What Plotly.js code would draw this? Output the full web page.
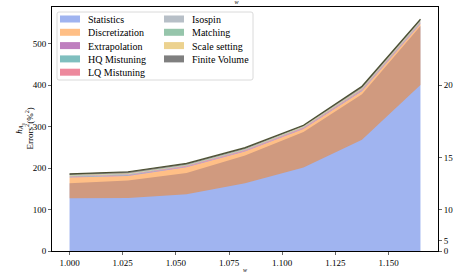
<!DOCTYPE html>
<html><head><meta charset="utf-8">
<script src="https://cdn.plot.ly/plotly-3.0.1.min.js"></script>
<style>html,body{margin:0;padding:0;background:#fff}#chart{width:455px;height:273px}</style>
</head><body><div id="chart"></div>
<script>
const w = [1.0, 1.0275, 1.055, 1.0825, 1.11, 1.1375, 1.165];
// blue statistics fill (top of the blue-tinted region)
const statistics = [163, 170, 188, 230, 287, 378, 542];
// discretization band: base and height (overlaps statistics)
const discretizationBase = [127, 128, 137, 163, 201, 268, 400];
const discretization = [50, 53, 65, 77, 93, 117, 147];
const extrapolation = [1.0, 1.0, 1.0, 1.0, 1.1, 1.4, 1.4];
const hqMistuning = [0.8, 0.9, 0.8, 0.8, 0.9, 1.1, 1.1];
const lqMistuning = [1.5, 1.6, 1.5, 1.5, 1.6, 2.0, 2.0];
const isospin = [0.7, 0.8, 0.7, 0.7, 0.7, 0.9, 0.9];
const matching = [1.0, 1.1, 1.0, 1.0, 1.1, 1.3, 1.3];
const scaleSetting = [1.0, 1.1, 1.0, 1.0, 1.1, 1.3, 1.3];
const finiteVolume = [3.0, 3.5, 3.0, 3.0, 2.5, 4.0, 4.0];
const seriesNames = ['Statistics', 'Discretization', 'Extrapolation', 'HQ Mistuning', 'LQ Mistuning',
  'Isospin', 'Matching', 'Scale setting', 'Finite Volume'];
const xTicks = [1.000, 1.025, 1.050, 1.075, 1.100, 1.125, 1.150];
const rightTickVals = [0, 25, 100, 225, 400];
const rightTickText = ['0', '5', '10', '15', '20'];

const colors = ['rgba(65,105,225,0.5)', 'rgba(255,127,14,0.5)', 'rgba(128,0,128,0.5)', 'rgba(0,128,128,0.5)',
  'rgba(220,20,60,0.5)', 'rgba(112,128,144,0.5)', 'rgba(46,139,87,0.5)', 'rgba(218,165,32,0.5)', 'rgba(0,0,0,0.5)'];
const font = 'Liberation Serif';
const traces = [];
traces.push({x: w, y: statistics, name: seriesNames[0], type: 'scatter', mode: 'lines',
  line: {width: 0}, fill: 'tozeroy', fillcolor: colors[0], showlegend: false});
traces.push({x: w, y: discretizationBase, type: 'scatter', mode: 'lines', line: {width: 0},
  showlegend: false, hoverinfo: 'skip'});
const discTop = discretizationBase.map((b, i) => b + discretization[i]);
traces.push({x: w, y: discTop, name: seriesNames[1], type: 'scatter', mode: 'lines',
  line: {width: 0}, fill: 'tonexty', fillcolor: colors[1], showlegend: false});
const rest = [extrapolation, hqMistuning, lqMistuning, isospin, matching, scaleSetting, finiteVolume];
let cum = discTop.slice();
rest.forEach((vals, k) => {
  cum = cum.map((c, i) => c + vals[i]);
  const last = k === rest.length - 1;
  traces.push({x: w, y: cum.slice(), name: seriesNames[k + 2], type: 'scatter', mode: 'lines',
    line: last ? {width: 1.2, color: 'rgba(55,60,25,0.85)'} : {width: 0},
    fill: 'tonexty', fillcolor: colors[k + 2], showlegend: false});
});
traces.push({x: w, y: statistics, yaxis: 'y2', type: 'scatter', mode: 'lines',
  line: {width: 0}, opacity: 0, showlegend: false, hoverinfo: 'skip'});

// legend drawn as shapes + text (plot area: x 52..438 px, y 7..251 px)
const L = 52, R = 438, T = 7, B = 251;
const px = v => (v - L) / (R - L);
const py = v => (B - v) / (B - T);
const shapes = [];
const annotations = [];
const bx0 = px(57), bx1 = px(253), by0 = py(80), by1 = py(12);
const rx = 2 / (R - L), ry = 2 / (B - T);
shapes.push({type: 'path', xref: 'paper', yref: 'paper', layer: 'above',
  path: `M ${bx0 + rx},${by1} L ${bx1 - rx},${by1} Q ${bx1},${by1} ${bx1},${by1 - ry} L ${bx1},${by0 + ry} Q ${bx1},${by0} ${bx1 - rx},${by0} L ${bx0 + rx},${by0} Q ${bx0},${by0} ${bx0},${by0 + ry} L ${bx0},${by1 - ry} Q ${bx0},${by1} ${bx0 + rx},${by1} Z`,
  fillcolor: 'rgba(255,255,255,0.8)', line: {color: '#d0d0d0', width: 0.8}});
seriesNames.forEach((name, i) => {
  const col = i < 5 ? 0 : 1;
  const row = i < 5 ? i : i - 5;
  const yc = 19 + row * 13.3;
  const sx = col === 0 ? 60 : 164;
  shapes.push({type: 'rect', xref: 'paper', yref: 'paper', layer: 'above',
    x0: px(sx), x1: px(sx + 20), y0: py(yc + 3.5), y1: py(yc - 3.5),
    fillcolor: colors[i], line: {width: 0}});
  annotations.push({xref: 'paper', yref: 'paper', x: px(sx + 27), y: py(yc + 0.5), xanchor: 'left', yanchor: 'middle',
    text: name, showarrow: false, borderpad: 0, font: {family: font, size: 10, color: '#000'}});
});
// y-axis title
annotations.push({xref: 'paper', yref: 'paper', x: px(24.5), y: py(129), xanchor: 'center', yanchor: 'middle',
  textangle: -90, showarrow: false, borderpad: 0,
  text: '<i>h</i><sub><i>A</i><sub>0</sub></sub><br>Errors<sup>2</sup>(%<sup>2</sup>)',
  font: {family: font, size: 9, color: '#000'}});

const layout = {
  width: 455, height: 273,
  margin: {l: L, r: 455 - R, t: T, b: 273 - B},
  paper_bgcolor: '#fff', plot_bgcolor: '#fff',
  font: {family: font, size: 9, color: '#000'},
  title: {text: '<i>w</i>', font: {family: font, size: 6}, x: 0.52, xanchor: 'center', y: 1.0, yanchor: 'top', pad: {t: 0}},
  xaxis: {range: [0.99175, 1.17325], tickvals: xTicks, tickformat: '.3f', ticks: 'outside', ticklen: 3,
    tickwidth: 0.8, showline: true, mirror: true, linecolor: '#000', linewidth: 1, showgrid: false, zeroline: false,
    title: {text: '<i>w</i>', font: {family: font, size: 6}, standoff: 2}, tickfont: {family: font, size: 9}},
  yaxis: {range: [0, 588], tickvals: [0, 100, 200, 300, 400, 500], ticks: 'outside', ticklen: 3, tickwidth: 0.8,
    showline: true, mirror: true, linecolor: '#000', linewidth: 1, showgrid: false, zeroline: false,
    tickfont: {family: font, size: 9}},
  yaxis2: {range: [0, 588], overlaying: 'y', side: 'right', tickvals: rightTickVals, ticktext: rightTickText,
    ticks: 'outside', ticklen: 3, tickwidth: 0.8, showgrid: false, zeroline: false, showline: false,
    tickfont: {family: font, size: 9}},
  showlegend: false,
  shapes: shapes,
  annotations: annotations
};
Plotly.newPlot('chart', traces, layout, {staticPlot: true, displayModeBar: false});
</script></body></html>
